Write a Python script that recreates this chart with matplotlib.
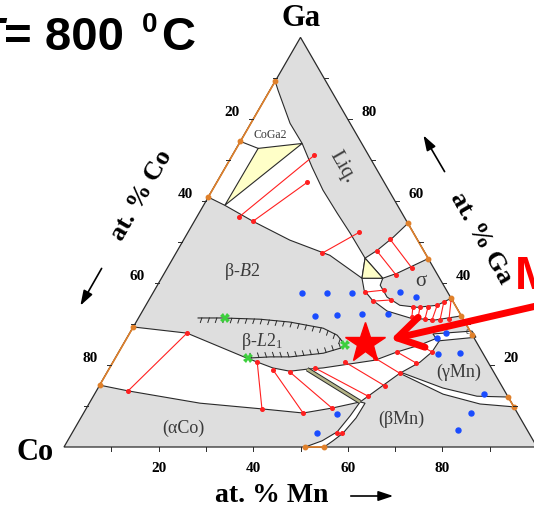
import numpy as np
import matplotlib.pyplot as plt
from matplotlib.patches import Polygon

plt.rcParams['mathtext.fontset'] = 'custom'
plt.rcParams['mathtext.rm'] = 'Liberation Serif'
plt.rcParams['mathtext.it'] = 'Liberation Serif:italic'
SERIF = 'Liberation Serif'

# all compositions as (at.% Mn, at.% Ga), Co = rest
liq_left = [(0, 89.3), (1.7, 87.1), (8.3, 79), (13.3, 74.1), (18.3, 68.3), (23.4, 62.7),
            (29.2, 57.1), (34.4, 52.2), (40.6, 46.1)]
liq_bottom = [(40.6, 46.1), (42.2, 48), (44, 51.2), (45.4, 54.6)]
b2_top = [(0, 61), (4.5, 59), (12.4, 55.1), (22.5, 50.5), (32.8, 46.8), (42.4, 41.2)]
coga2_tri = [(4.6, 72.9), (13.3, 74.1), (4.5, 59)]
coga2_line = [(0, 74.6), (4.6, 72.9)]
liq_sigma_tri = [(40.6, 46.1), (42.4, 41.2), (46.8, 41.2)]
sigma_top = [(46.8, 41.2), (49.2, 42.4), (54, 46)]
sigma_arc = [(46.8, 41.2), (47.1, 39.5), (50, 36.6), (53.7, 34.6), (57.6, 34.1), (61.6, 34.6), (63.7, 36.3)]
outer_arc = [(42.4, 41.2), (44.3, 38.3), (47.2, 35.9), (51.7, 33.2), (57.4, 31.5), (62.9, 31), (68, 32)]
b2_bottom = [(0, 29.3), (12.1, 27.8), (27.8, 21.7), (34.5, 19.3), (38.5, 18.5), (41.9, 19),
             (45.1, 19.3), (55.2, 21.2), (58.8, 23.2), (62.8, 24.9), (65.6, 26.6)]
aco_top = [(0, 15.1), (6.7, 13.7), (23.4, 10.7), (37.2, 9.3), (46.4, 8.3), (51.9, 9.5), (57.1, 11)]
three_line = [(41.9, 19), (57.1, 11)]
band_low = [(66.4, 26.1), (66.2, 23.2), (64.9, 20.7), (62, 18), (58.3, 12.7), (57.1, 11)]
bmn_left = [(57.1, 11), (56.7, 7.6), (55.9, 3.7), (53.8, 1.5), (51, 0)]
bmn_right = [(58.3, 10.7), (58.2, 7.1), (57.3, 3.4), (56.1, 1.5), (55, 0)]
gmn_up = [(61.9, 18.3), (72.9, 14.4), (81.1, 12.4), (87.8, 12.2)]
gmn_low = [(62.9, 17.6), (73.7, 12.9), (82.7, 10.5), (90.2, 9.8)]
eps_up = [(64.2, 27.6), (72.1, 28.3)]
eps_low = [(66.1, 25.9), (73.7, 26.8)]
l21_top = [(12.6, 31.5), (17.8, 31.5), (25.8, 31.2), (32.5, 30.5), (40.3, 29), (44.1, 27.3), (47, 24.9)]
l21_bottom = [(28, 21.7), (32.6, 22), (36.8, 22), (43.4, 22.9), (46.3, 24.1), (47, 24.9)]

ties = [((17.3, 71.2), (8.9, 56.1)), ((19.1, 64.6), (12.4, 55.1)), ((36.2, 52.4), (30.9, 47.3)),
        ((42.3, 47.8), (49.2, 42.0)), ((43.6, 50.7), (51.7, 43.7)),
        ((44.7, 37.8), (48.5, 38.3)), ((47.5, 35.6), (51.2, 35.9)), ((57.7, 31.7), (56.7, 34.1)),
        ((59.1, 31.5), (58.2, 34.1)), ((60.7, 31.2), (59.9, 34.1)), ((62.3, 31), (61.6, 34.6)),
        ((64, 31), (62.6, 35.4)), ((65.8, 31.2), (63.8, 36.1)),
        ((12.1, 27.8), (6.7, 13.7)), ((30.5, 20.7), (37.2, 9.3)), ((34.8, 18.8), (46.4, 8.3)),
        ((38.6, 18.3), (51.9, 9.5)), ((43.4, 19.3), (58.1, 12.4)),
        ((49.1, 20.7), (60.4, 14.9)), ((54.9, 21.7), (62, 18)), ((58.8, 23.2), (64.2, 20.5)),
        ((62.8, 24.9), (66.2, 23.2)), ((56, 3.4), (57.1, 3.4))]

orange_segs = [[(0, 61), (0, 74.6), (0, 89.3)], [(0, 15.1), (0, 29.3)], [(45.4, 54.6), (54, 46)],
               [(63.7, 36.3), (68, 32), (72.7, 27.3)], [(87.8, 12.2), (90.2, 9.8)], [(51, 0), (55, 0)]]

blue_mn = [31.5, 36.8, 42.1, 52.1, 56.1, 37.1, 41.6, 46.8, 52.3, 65.6, 66.9, 67.7, 72.3, 82.3, 81.9, 81.2, 53.7, 51.8]
blue_ga = [37.6, 37.6, 37.6, 37.8, 36.6, 32.0, 32.2, 32.4, 32.4, 26.6, 27.8, 22.7, 22.9, 12.9, 8.3, 4.1, 8.0, 3.4]
green_mn = [18.2, 28, 47]
green_ga = [31.5, 21.7, 24.9]
star = (50.9, 25.4)

ticks = [20, 40, 60, 80]

# triangle placement in pixels
CO_X, BASE_Y, SIDE = 64, 447, 473
H = SIDE * np.sqrt(3) / 2


def tern(m, g):
    return CO_X + SIDE * (m + g / 2) / 100, BASE_Y - H * g / 100


def xy(pts):
    return np.array([tern(*p) for p in pts])


fig = plt.figure(figsize=(5.34, 5.09), dpi=100)
ax = fig.add_axes([0, 0, 1, 1])
ax.set_xlim(0, 534)
ax.set_ylim(509, 0)
ax.axis('off')

GRAY = '#dedede'
LC = '#2a2a2a'
tri = xy([(0, 0), (100, 0), (0, 100)])
ax.add_patch(Polygon(tri, closed=True, fc=GRAY, ec=LC, lw=0.9, zorder=1))

white_regions = [liq_left + b2_top[::-1],
                 liq_bottom + sigma_top[::-1],
                 sigma_arc + outer_arc[::-1],
                 b2_bottom[:6] + aco_top[::-1],
                 b2_bottom[5:] + band_low,
                 bmn_left + bmn_right[::-1],
                 gmn_up + gmn_low[::-1],
                 eps_up + eps_low[::-1]]
for reg in white_regions:
    ax.add_patch(Polygon(xy(reg), closed=True, fc='white', ec=LC, lw=0.8, zorder=2))
for reg in [coga2_tri, liq_sigma_tri]:
    ax.add_patch(Polygon(xy(reg), closed=True, fc='#ffffc8', ec=LC, lw=0.8, zorder=3))
p = xy(coga2_line)
ax.plot(p[:, 0], p[:, 1], color=LC, lw=0.8, zorder=3)

# thin three-phase strip
p = xy(three_line)
ax.plot(p[:, 0], p[:, 1], color=LC, lw=3.2, zorder=3, solid_capstyle='butt')
ax.plot(p[:, 0], p[:, 1], color='#b4b488', lw=1.8, zorder=3, solid_capstyle='butt')


def hatch(pts, dx, dy, step=7.5):
    q = xy(pts)
    s = np.concatenate([[0], np.cumsum(np.hypot(*np.diff(q, axis=0).T))])
    ax.plot(q[:, 0], q[:, 1], color=LC, lw=0.8, zorder=3)
    for d in np.arange(step / 2, s[-1] - 3, step):
        x0, y0 = np.interp(d, s, q[:, 0]), np.interp(d, s, q[:, 1])
        ax.plot([x0, x0 + dx], [y0, y0 + dy], color=LC, lw=0.7, zorder=3)


hatch(l21_top, -1.5, 4.5)
hatch(l21_bottom, -1.5, -4.5)

for a, b in ties:
    p = xy([a, b])
    ax.plot(p[:, 0], p[:, 1], color='#ff2020', lw=0.8, marker='o', ms=2.6, zorder=4)

for seg in orange_segs:
    p = xy(seg)
    ax.plot(p[:, 0], p[:, 1], color='#e0802a', lw=1.2, marker='o', ms=3.2, zorder=5)

# edge ticks
for v in range(10, 100, 10):
    x0, y0 = tern(v, 0)
    ax.plot([x0, x0], [y0, y0 + 4], color=LC, lw=0.7, zorder=5)
    x0, y0 = tern(0, v)
    ax.plot([x0, x0 - 4], [y0, y0], color=LC, lw=0.7, zorder=5)
    x0, y0 = tern(100 - v, v)
    ax.plot([x0, x0 + 4], [y0, y0], color=LC, lw=0.7, zorder=5)

bx = [tern(m, g) for m, g in zip(blue_mn, blue_ga)]
ax.plot([b[0] for b in bx], [b[1] for b in bx], 'o', color='#1a4cff', ms=3.6, zorder=6)
gx = [tern(m, g) for m, g in zip(green_mn, green_ga)]
ax.plot([b[0] for b in gx], [b[1] for b in gx], 'X', color='#3ccf3c', ms=7, mew=0, zorder=6)

# tick labels
for t in ticks:
    x0, y0 = tern(t, 0)
    ax.text(x0, y0 + 21, str(t), ha='center', va='center', fontsize=11, fontweight='bold', family=SERIF)
    x0, y0 = tern(0, 100 - t)
    ax.text(x0 - 21, y0 - 7, str(t), ha='center', va='center', fontsize=11, fontweight='bold', family=SERIF)
    x0, y0 = tern(100 - t, t)
    ax.text(x0 + 21, y0 - 7, str(t), ha='center', va='center', fontsize=11, fontweight='bold', family=SERIF)

ax.text(301, 18, 'Ga', ha='center', va='center', fontsize=22, fontweight='bold', family=SERIF)
ax.text(35, 453, 'Co', ha='center', va='center', fontsize=22, fontweight='bold', family=SERIF)
ax.text(272, 495, 'at. % Mn', ha='center', va='center', fontsize=20, fontweight='bold', family=SERIF)
ax.annotate('', xy=(396, 496), xytext=(348, 496),
            arrowprops=dict(arrowstyle='-|>,head_length=0.9,head_width=0.3', color='black', lw=1.2))
ax.text(141, 195, 'at. % Co', ha='center', va='center', rotation=60, fontsize=19, fontweight='bold',
        family=SERIF, rotation_mode='anchor')
ax.annotate('', xy=(79, 308), xytext=(103, 266),
            arrowprops=dict(arrowstyle='-|>,head_length=0.9,head_width=0.3', color='black', lw=1.2))
ax.text(481, 238, 'at. % Ga', ha='center', va='center', rotation=-60, fontsize=19, fontweight='bold',
        family=SERIF, rotation_mode='anchor')
ax.annotate('', xy=(422, 133), xytext=(446, 174),
            arrowprops=dict(arrowstyle='-|>,head_length=0.9,head_width=0.3', color='black', lw=1.2))

RC = '#3a3a3a'
ax.text(342, 167, 'Liq.', ha='center', va='center', rotation=-60, fontsize=15, color=RC, family=SERIF,
        rotation_mode='anchor')
ax.text(270, 135, 'CoGa2', ha='center', va='center', fontsize=8.5, color=RC, family=SERIF)
ax.text(421, 281, 'σ', ha='center', va='center', fontsize=15, color=RC, family=SERIF)
ax.text(242, 271, r'β-$\it{B}$2', ha='center', va='center', fontsize=13, color=RC, family=SERIF)
ax.text(262, 342, r'β-$\it{L}$2$_1$', ha='center', va='center', fontsize=13, color=RC, family=SERIF)
ax.text(183, 428, '(αCo)', ha='center', va='center', fontsize=13, color=RC, family=SERIF)
ax.text(401, 419, '(βMn)', ha='center', va='center', fontsize=13, color=RC, family=SERIF)
ax.text(459, 372, '(γMn)', ha='center', va='center', fontsize=13, color=RC, family=SERIF)
ax.text(468, 331, 'ε', ha='center', va='center', fontsize=7, color=RC, family=SERIF)

sx, sy = tern(*star)
ax.plot(sx, sy, marker='*', ms=30, color='red', mec='red', zorder=8)
ax.annotate('', xy=(388, 340), xytext=(545, 304),
            arrowprops=dict(arrowstyle='->,head_length=0.9,head_width=0.55', color='red', lw=5,
                            mutation_scale=20), zorder=8)

ax.text(4, 50, 'T', ha='right', va='baseline', fontsize=34, fontweight='bold', style='italic',
        family='Liberation Sans')
ax.text(4, 50, '= 800', ha='left', va='baseline', fontsize=34, fontweight='bold', family='Liberation Sans')
ax.text(142, 32, '0', ha='left', va='baseline', fontsize=20, fontweight='bold', family='Liberation Sans')
ax.text(161, 50, 'C', ha='left', va='baseline', fontsize=34, fontweight='bold', family='Liberation Sans')
ax.text(515, 289, 'M', ha='left', va='baseline', fontsize=34, fontweight='bold', color='red',
        family='Liberation Sans')

fig.savefig('out.png', dpi=100)
